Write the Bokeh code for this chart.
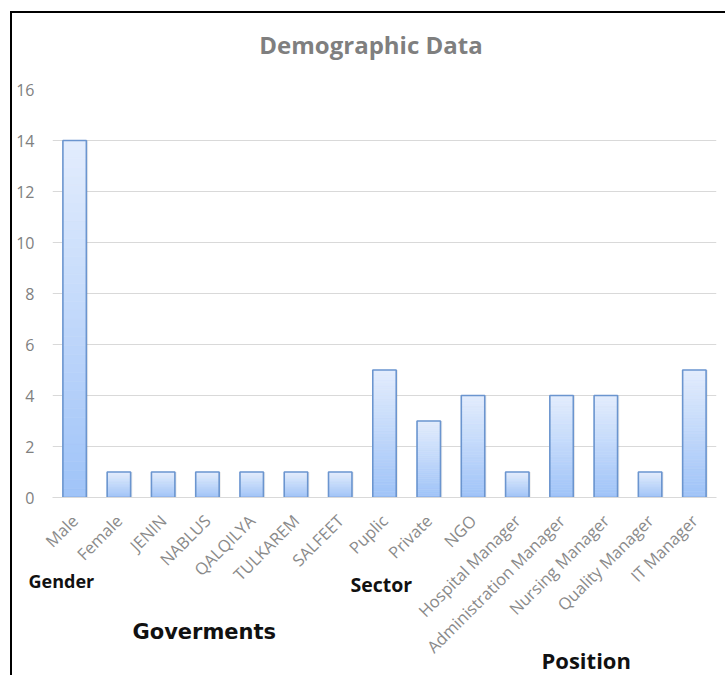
import numpy as np
from bokeh.plotting import figure
from bokeh.models import ColumnDataSource, FactorRange, Range1d, Label, FixedTicker
from bokeh.transform import dodge
from bokeh.embed import file_html
from bokeh.resources import INLINE

# ---- data -------------------------------------------------------------
categories = ["Male", "Female", "JENIN", "NABLUS", "QALQILYA", "TULKAREM",
              "SALFEET", "Puplic", "Private", "NGO", "Hospital Manager",
              "Administration Manager", "Nursing Manager", "Quality Manager",
              "IT Manager"]
counts = [14, 1, 1, 1, 1, 1, 1, 5, 3, 4, 1, 4, 4, 1, 5]
y_ticks = [0, 2, 4, 6, 8, 10, 12, 14, 16]
chart_title = "Demographic Data"
group_names = ["Gender", "Goverments", "Sector", "Position"]

# ---- page geometry (page pixels) --------------------------------------
PAGE_W, PAGE_H = 725, 675
BORDER = 2
OFF_X, OFF_Y = 10, 11                 # outer margin before the black rule
CANVAS_X0, CANVAS_Y0 = OFF_X + BORDER, OFF_Y + BORDER
FRAME_L, FRAME_R, FRAME_T, FRAME_B = 52, 716, 89, 496.5
Y_MAX = 16


def px_to_x(px):
    return (px - FRAME_L) / (FRAME_R - FRAME_L) * len(categories)


def px_to_y(py):
    return (FRAME_B - py) / (FRAME_B - FRAME_T) * Y_MAX


p = figure(
    x_range=FactorRange(*categories),
    y_range=Range1d(0, Y_MAX),
    frame_width=int(FRAME_R - FRAME_L),
    frame_height=int(round(FRAME_B - FRAME_T)),
    min_border_left=int(FRAME_L - CANVAS_X0),
    min_border_right=int(PAGE_W - FRAME_R),
    min_border_top=int(FRAME_T - CANVAS_Y0),
    min_border_bottom=int(round(PAGE_H - FRAME_B)),
    output_backend="svg",
    toolbar_location=None,
)
p.styles = {
    "border-top": f"{BORDER}px solid #000",
    "border-left": f"{BORDER}px solid #000",
    "margin-left": f"{OFF_X}px",
    "margin-top": f"{OFF_Y}px",
}
p.outline_line_color = None
p.background_fill_color = "white"
p.border_fill_color = "white"
p.title.text = ""

# ---- title, centred on the whole chart area ----------------------------
p.add_layout(Label(
    x=px_to_x(370.5), y=px_to_y(44), text=chart_title,
    text_font="Open Sans", text_font_size="24px", text_font_style="bold",
    text_color="#7f7f7f", text_align="center", text_baseline="alphabetic",
), "above")

# ---- bars with a vertical gradient (light top, deeper blue bottom) -----
N_SLICES = 40
top_rgb = np.array([0xe3, 0xed, 0xfd], dtype=float)
bot_rgb = np.array([0x9f, 0xc3, 0xf8], dtype=float)
xs, bottoms, tops, colors = [], [], [], []
for cat, v in zip(categories, counts):
    for k in range(N_SLICES):
        frac = (k + 0.5) / N_SLICES
        c = bot_rgb + (top_rgb - bot_rgb) * frac
        xs.append(cat)
        bottoms.append(v * k / N_SLICES)
        tops.append(v * (k + 1) / N_SLICES)
        colors.append("#%02x%02x%02x" % tuple(int(round(t)) for t in c))
slices = ColumnDataSource(dict(x=xs, bottom=bottoms, top=tops, color=colors))
bars = ColumnDataSource(dict(x=categories, top=counts))

BAR_W = 0.53
# soft drop shadow on the right of each bar
p.vbar(x=dodge("x", 0.04, range=p.x_range), top="top", width=BAR_W,
       source=bars, fill_color="#000000", fill_alpha=0.07, line_color=None)
p.vbar(x="x", bottom="bottom", top="top", width=BAR_W, source=slices,
       fill_color="color", line_color="color", line_width=0.6)
p.vbar(x="x", top="top", width=BAR_W, source=bars, fill_color=None,
       line_color="#6b95cf", line_width=1.6)

# ---- axes & grid ------------------------------------------------------
p.xgrid.grid_line_color = None
p.ygrid.grid_line_color = "#d9d9d9"
p.ygrid.grid_line_width = 1
p.yaxis.ticker = FixedTicker(ticks=y_ticks)
p.yaxis.axis_line_color = None
p.yaxis.major_tick_line_color = None
p.yaxis.minor_tick_line_color = None
p.yaxis.major_tick_in = 0
p.yaxis.major_tick_out = 0
p.yaxis.major_label_standoff = 18
p.yaxis.major_label_text_font = "Open Sans"
p.yaxis.major_label_text_font_size = "16px"
p.yaxis.major_label_text_color = "#808080"

p.xaxis.axis_line_color = "#d9d9d9"
p.xaxis.axis_line_width = 1
p.xaxis.major_tick_line_color = None
p.xaxis.major_tick_in = 0
p.xaxis.major_tick_out = 0
p.xaxis.major_label_standoff = 20
p.xaxis.major_label_orientation = np.pi / 4
p.xaxis.major_label_text_font = "Open Sans"
p.xaxis.major_label_text_font_size = "16.5px"
p.xaxis.major_label_text_color = "#8a8a8a"

# ---- group captions below the axis (placed in the lower panel) --------
captions = [
    (group_names[0], 28, 580, "Open Sans", "18px"),
    (group_names[1], 132, 631, "DejaVu Sans", "21px"),
    (group_names[2], 350, 583, "Open Sans", "19.5px"),
    (group_names[3], 541, 659, "Open Sans", "22px"),
]
for text, px, py, font, size in captions:
    p.add_layout(Label(
        x=px_to_x(px), y=px_to_y(py), text=text,
        text_font=font, text_font_size=size, text_font_style="bold",
        text_color="#111111", text_align="left", text_baseline="middle",
    ), "below")

open("out.html", "w").write(file_html(p, INLINE))
